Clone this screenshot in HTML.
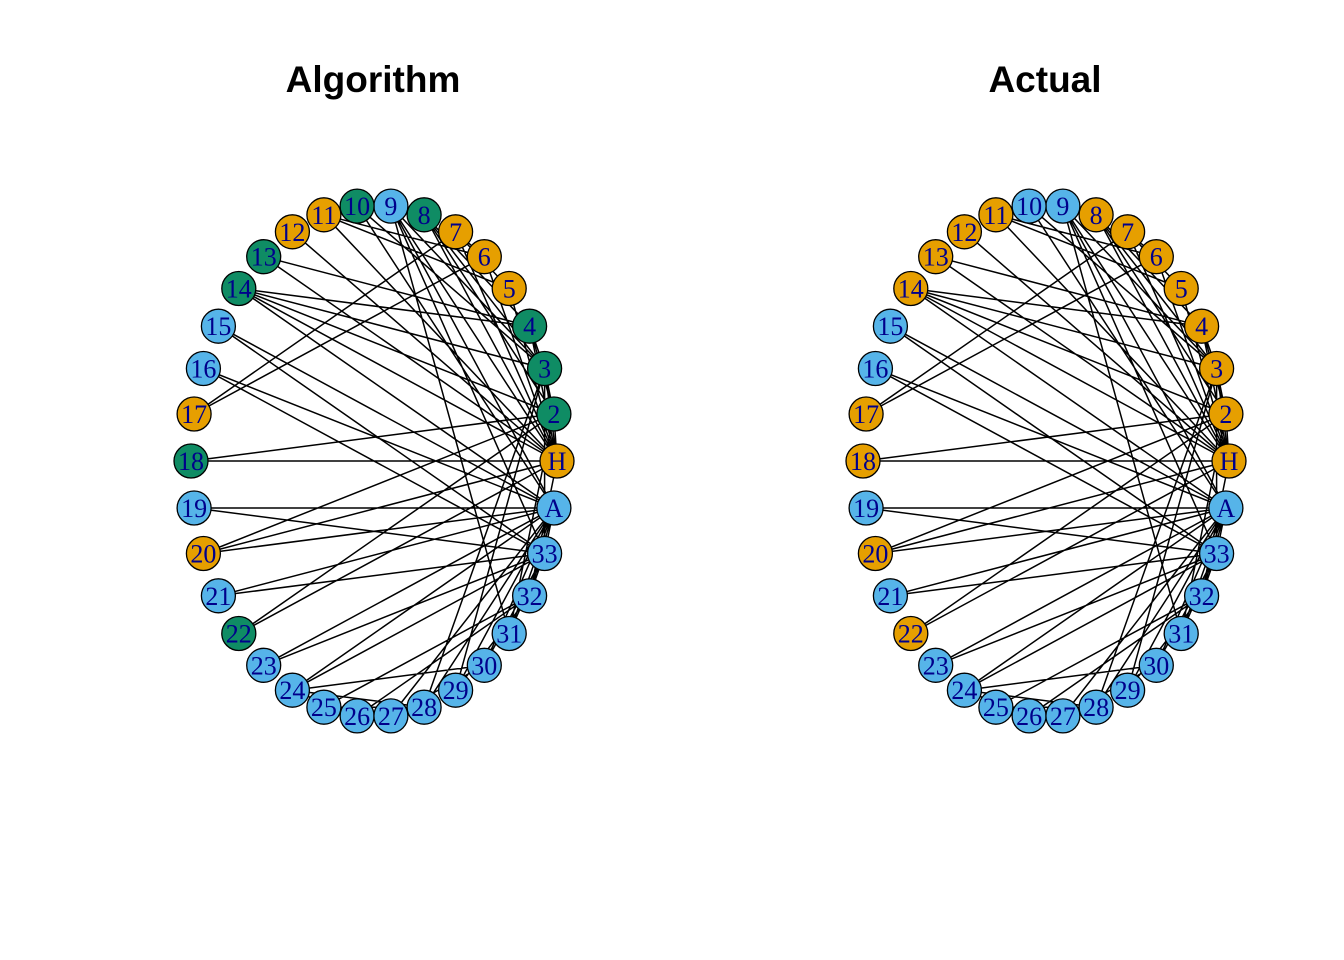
<!DOCTYPE html>
<html><head><meta charset="utf-8"><style>html,body{margin:0;padding:0;background:#fff}svg{display:block}</style></head>
<body>
<svg width="1344" height="960" viewBox="0 0 1344 960" xmlns="http://www.w3.org/2000/svg">
<rect width="1344" height="960" fill="#fff"/>
<text x="373" y="92" font-family="Liberation Sans, sans-serif" font-weight="bold" font-size="37" text-anchor="middle">Algorithm</text>
<text x="1045" y="92" font-family="Liberation Sans, sans-serif" font-weight="bold" font-size="37" text-anchor="middle">Actual</text>
<g id="e" stroke="#000" stroke-width="1.5" fill="none">
<path d="M557 461L553.9 414M557 461L544.6 368.5M557 461L529.6 326.2M557 461L509.2 288.5M557 461L484.3 256.7M557 461L455.6 231.8M557 461L424.1 214.8M557 461L390.9 206.1M557 461L323.9 214.8M557 461L292.4 231.8M557 461L263.7 256.7M557 461L238.8 288.5M557 461L191 461M557 461L203.4 553.5M557 461L238.8 633.5M557 461L529.6 595.8
M553.9 414L544.6 368.5M553.9 414L529.6 326.2M553.9 414L424.1 214.8M553.9 414L238.8 288.5M553.9 414L191 461M553.9 414L203.4 553.5M553.9 414L238.8 633.5M553.9 414L509.2 633.5
M544.6 368.5L529.6 326.2M544.6 368.5L424.1 214.8M544.6 368.5L390.9 206.1M544.6 368.5L357.1 206.1M544.6 368.5L238.8 288.5M544.6 368.5L424.1 707.2M544.6 368.5L455.6 690.2M544.6 368.5L544.6 553.5
M529.6 326.2L424.1 214.8M529.6 326.2L263.7 256.7M529.6 326.2L238.8 288.5
M509.2 288.5L455.6 231.8M509.2 288.5L323.9 214.8
M484.3 256.7L455.6 231.8M484.3 256.7L323.9 214.8M484.3 256.7L194.1 414
M455.6 231.8L194.1 414
M390.9 206.1L509.2 633.5M390.9 206.1L544.6 553.5M390.9 206.1L553.9 508
M357.1 206.1L553.9 508
M238.8 288.5L553.9 508
M218.4 326.2L544.6 553.5M218.4 326.2L553.9 508
M203.4 368.5L544.6 553.5M203.4 368.5L553.9 508
M194.1 508L544.6 553.5M194.1 508L553.9 508
M203.4 553.5L553.9 508
M218.4 595.8L544.6 553.5M218.4 595.8L553.9 508
M263.7 665.3L544.6 553.5M263.7 665.3L553.9 508
M292.4 690.2L357.1 715.9M292.4 690.2L424.1 707.2M292.4 690.2L484.3 665.3M292.4 690.2L544.6 553.5M292.4 690.2L553.9 508
M323.9 707.2L357.1 715.9M323.9 707.2L424.1 707.2M323.9 707.2L529.6 595.8
M357.1 715.9L529.6 595.8
M390.9 715.9L484.3 665.3M390.9 715.9L553.9 508
M424.1 707.2L553.9 508
M455.6 690.2L529.6 595.8M455.6 690.2L553.9 508
M484.3 665.3L544.6 553.5M484.3 665.3L553.9 508
M509.2 633.5L544.6 553.5M509.2 633.5L553.9 508
M529.6 595.8L544.6 553.5M529.6 595.8L553.9 508
M544.6 553.5L553.9 508"/>
</g>
<use href="#e" x="672" y="0"/>
<g stroke="#000" stroke-width="1.3" font-family="Liberation Serif, serif" font-size="26">
<!-- left graph nodes -->
<circle cx="557" cy="461" r="17" fill="#E69F00"/>
<circle cx="553.9" cy="414" r="17" fill="#0F8C64"/>
<circle cx="544.6" cy="368.5" r="17" fill="#0F8C64"/>
<circle cx="529.6" cy="326.2" r="17" fill="#0F8C64"/>
<circle cx="509.2" cy="288.5" r="17" fill="#E69F00"/>
<circle cx="484.3" cy="256.7" r="17" fill="#E69F00"/>
<circle cx="455.6" cy="231.8" r="17" fill="#E69F00"/>
<circle cx="424.1" cy="214.8" r="17" fill="#0F8C64"/>
<circle cx="390.9" cy="206.1" r="17" fill="#56B4E9"/>
<circle cx="357.1" cy="206.1" r="17" fill="#0F8C64"/>
<circle cx="323.9" cy="214.8" r="17" fill="#E69F00"/>
<circle cx="292.4" cy="231.8" r="17" fill="#E69F00"/>
<circle cx="263.7" cy="256.7" r="17" fill="#0F8C64"/>
<circle cx="238.8" cy="288.5" r="17" fill="#0F8C64"/>
<circle cx="218.4" cy="326.2" r="17" fill="#56B4E9"/>
<circle cx="203.4" cy="368.5" r="17" fill="#56B4E9"/>
<circle cx="194.1" cy="414" r="17" fill="#E69F00"/>
<circle cx="191" cy="461" r="17" fill="#0F8C64"/>
<circle cx="194.1" cy="508" r="17" fill="#56B4E9"/>
<circle cx="203.4" cy="553.5" r="17" fill="#E69F00"/>
<circle cx="218.4" cy="595.8" r="17" fill="#56B4E9"/>
<circle cx="238.8" cy="633.5" r="17" fill="#0F8C64"/>
<circle cx="263.7" cy="665.3" r="17" fill="#56B4E9"/>
<circle cx="292.4" cy="690.2" r="17" fill="#56B4E9"/>
<circle cx="323.9" cy="707.2" r="17" fill="#56B4E9"/>
<circle cx="357.1" cy="715.9" r="17" fill="#56B4E9"/>
<circle cx="390.9" cy="715.9" r="17" fill="#56B4E9"/>
<circle cx="424.1" cy="707.2" r="17" fill="#56B4E9"/>
<circle cx="455.6" cy="690.2" r="17" fill="#56B4E9"/>
<circle cx="484.3" cy="665.3" r="17" fill="#56B4E9"/>
<circle cx="509.2" cy="633.5" r="17" fill="#56B4E9"/>
<circle cx="529.6" cy="595.8" r="17" fill="#56B4E9"/>
<circle cx="544.6" cy="553.5" r="17" fill="#56B4E9"/>
<circle cx="553.9" cy="508" r="17" fill="#56B4E9"/>
<!-- right graph nodes -->
<g transform="translate(672,0)">
<circle cx="557" cy="461" r="17" fill="#E69F00"/>
<circle cx="553.9" cy="414" r="17" fill="#E69F00"/>
<circle cx="544.6" cy="368.5" r="17" fill="#E69F00"/>
<circle cx="529.6" cy="326.2" r="17" fill="#E69F00"/>
<circle cx="509.2" cy="288.5" r="17" fill="#E69F00"/>
<circle cx="484.3" cy="256.7" r="17" fill="#E69F00"/>
<circle cx="455.6" cy="231.8" r="17" fill="#E69F00"/>
<circle cx="424.1" cy="214.8" r="17" fill="#E69F00"/>
<circle cx="390.9" cy="206.1" r="17" fill="#56B4E9"/>
<circle cx="357.1" cy="206.1" r="17" fill="#56B4E9"/>
<circle cx="323.9" cy="214.8" r="17" fill="#E69F00"/>
<circle cx="292.4" cy="231.8" r="17" fill="#E69F00"/>
<circle cx="263.7" cy="256.7" r="17" fill="#E69F00"/>
<circle cx="238.8" cy="288.5" r="17" fill="#E69F00"/>
<circle cx="218.4" cy="326.2" r="17" fill="#56B4E9"/>
<circle cx="203.4" cy="368.5" r="17" fill="#56B4E9"/>
<circle cx="194.1" cy="414" r="17" fill="#E69F00"/>
<circle cx="191" cy="461" r="17" fill="#E69F00"/>
<circle cx="194.1" cy="508" r="17" fill="#56B4E9"/>
<circle cx="203.4" cy="553.5" r="17" fill="#E69F00"/>
<circle cx="218.4" cy="595.8" r="17" fill="#56B4E9"/>
<circle cx="238.8" cy="633.5" r="17" fill="#E69F00"/>
<circle cx="263.7" cy="665.3" r="17" fill="#56B4E9"/>
<circle cx="292.4" cy="690.2" r="17" fill="#56B4E9"/>
<circle cx="323.9" cy="707.2" r="17" fill="#56B4E9"/>
<circle cx="357.1" cy="715.9" r="17" fill="#56B4E9"/>
<circle cx="390.9" cy="715.9" r="17" fill="#56B4E9"/>
<circle cx="424.1" cy="707.2" r="17" fill="#56B4E9"/>
<circle cx="455.6" cy="690.2" r="17" fill="#56B4E9"/>
<circle cx="484.3" cy="665.3" r="17" fill="#56B4E9"/>
<circle cx="509.2" cy="633.5" r="17" fill="#56B4E9"/>
<circle cx="529.6" cy="595.8" r="17" fill="#56B4E9"/>
<circle cx="544.6" cy="553.5" r="17" fill="#56B4E9"/>
<circle cx="553.9" cy="508" r="17" fill="#56B4E9"/>
</g>
</g>
<g id="lbl" font-family="Liberation Serif, serif" font-size="26" fill="#00008B" text-anchor="middle">
<text x="557" y="470">H</text>
<text x="553.9" y="423">2</text>
<text x="544.6" y="377.5">3</text>
<text x="529.6" y="335.2">4</text>
<text x="509.2" y="297.5">5</text>
<text x="484.3" y="265.7">6</text>
<text x="455.6" y="240.8">7</text>
<text x="424.1" y="223.8">8</text>
<text x="390.9" y="215.1">9</text>
<text x="357.1" y="215.1">10</text>
<text x="323.9" y="223.8">11</text>
<text x="292.4" y="240.8">12</text>
<text x="263.7" y="265.7">13</text>
<text x="238.8" y="297.5">14</text>
<text x="218.4" y="335.2">15</text>
<text x="203.4" y="377.5">16</text>
<text x="194.1" y="423">17</text>
<text x="191" y="470">18</text>
<text x="194.1" y="517">19</text>
<text x="203.4" y="562.5">20</text>
<text x="218.4" y="604.8">21</text>
<text x="238.8" y="642.5">22</text>
<text x="263.7" y="674.3">23</text>
<text x="292.4" y="699.2">24</text>
<text x="323.9" y="716.2">25</text>
<text x="357.1" y="724.9">26</text>
<text x="390.9" y="724.9">27</text>
<text x="424.1" y="716.2">28</text>
<text x="455.6" y="699.2">29</text>
<text x="484.3" y="674.3">30</text>
<text x="509.2" y="642.5">31</text>
<text x="529.6" y="604.8">32</text>
<text x="544.6" y="562.5">33</text>
<text x="553.9" y="517">A</text>
</g>
<g font-family="Liberation Serif, serif" font-size="26" fill="#00008B" text-anchor="middle" transform="translate(672,0)">
<text x="557" y="470">H</text>
<text x="553.9" y="423">2</text>
<text x="544.6" y="377.5">3</text>
<text x="529.6" y="335.2">4</text>
<text x="509.2" y="297.5">5</text>
<text x="484.3" y="265.7">6</text>
<text x="455.6" y="240.8">7</text>
<text x="424.1" y="223.8">8</text>
<text x="390.9" y="215.1">9</text>
<text x="357.1" y="215.1">10</text>
<text x="323.9" y="223.8">11</text>
<text x="292.4" y="240.8">12</text>
<text x="263.7" y="265.7">13</text>
<text x="238.8" y="297.5">14</text>
<text x="218.4" y="335.2">15</text>
<text x="203.4" y="377.5">16</text>
<text x="194.1" y="423">17</text>
<text x="191" y="470">18</text>
<text x="194.1" y="517">19</text>
<text x="203.4" y="562.5">20</text>
<text x="218.4" y="604.8">21</text>
<text x="238.8" y="642.5">22</text>
<text x="263.7" y="674.3">23</text>
<text x="292.4" y="699.2">24</text>
<text x="323.9" y="716.2">25</text>
<text x="357.1" y="724.9">26</text>
<text x="390.9" y="724.9">27</text>
<text x="424.1" y="716.2">28</text>
<text x="455.6" y="699.2">29</text>
<text x="484.3" y="674.3">30</text>
<text x="509.2" y="642.5">31</text>
<text x="529.6" y="604.8">32</text>
<text x="544.6" y="562.5">33</text>
<text x="553.9" y="517">A</text>
</g>
</svg>
</body></html>
